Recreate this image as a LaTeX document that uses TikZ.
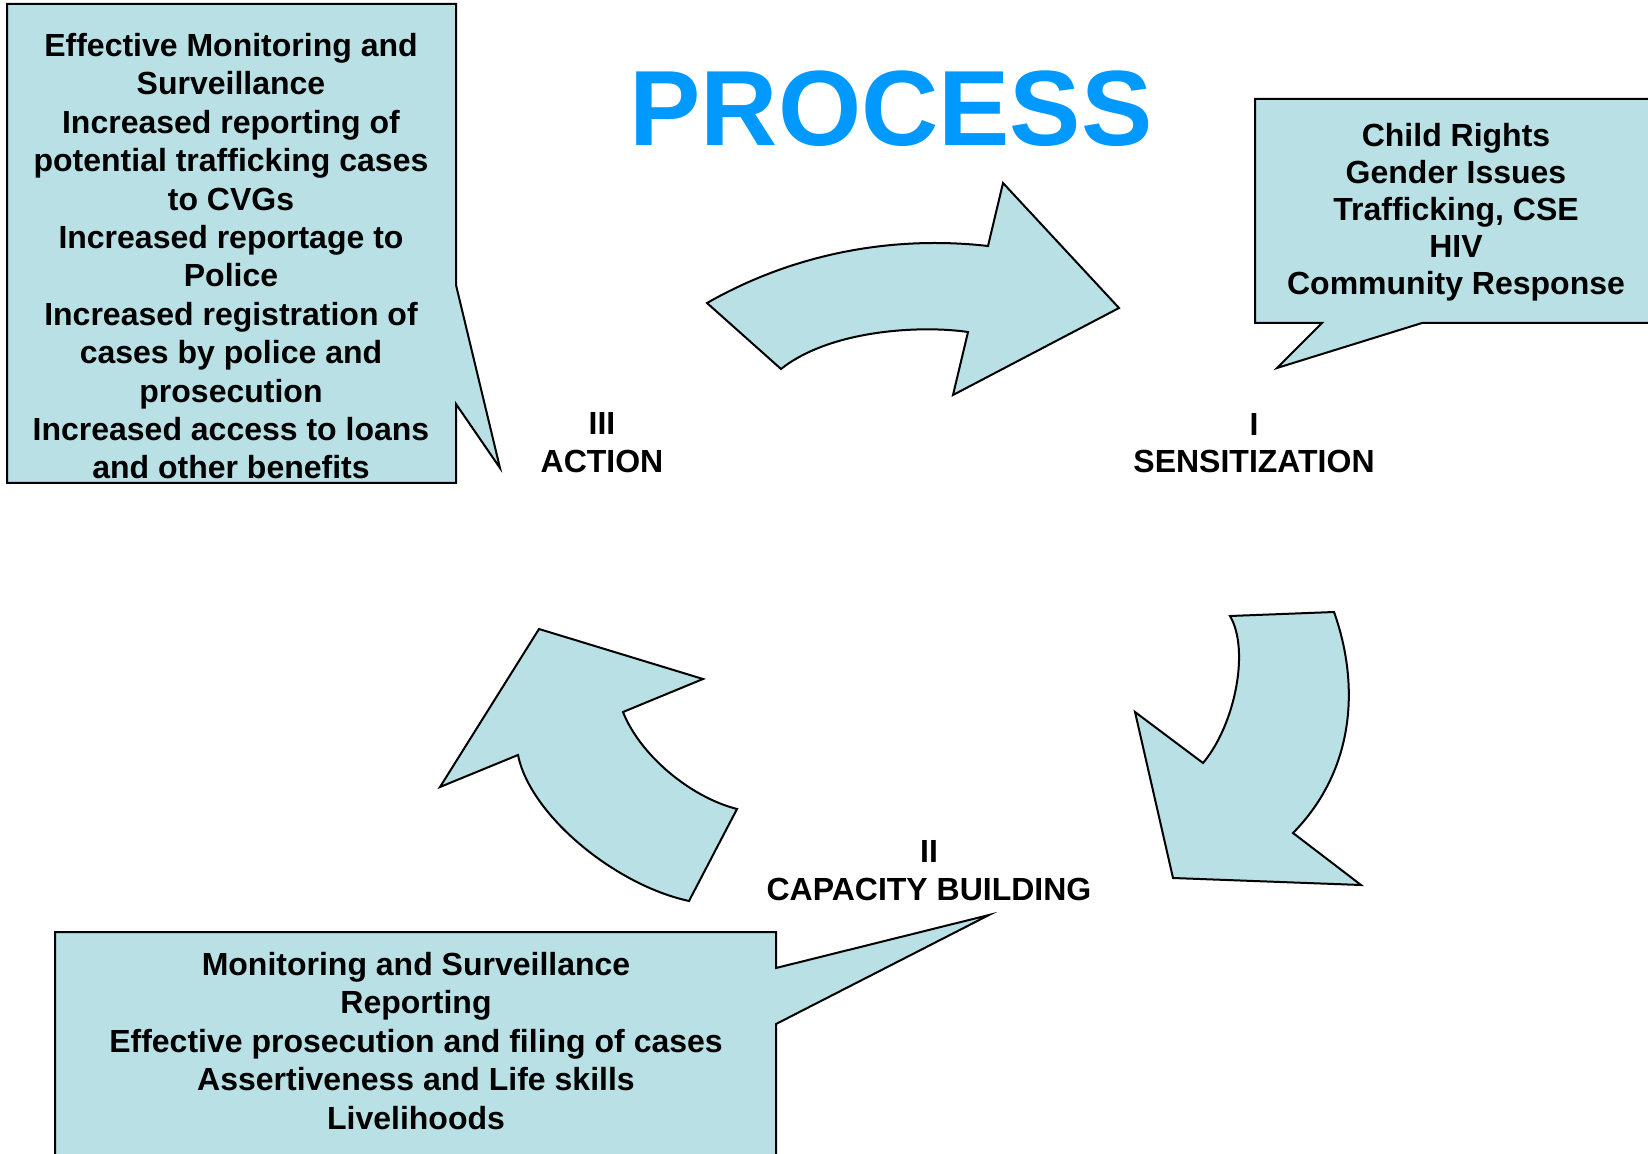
\documentclass[tikz,border=0pt]{standalone}
\usepackage{fontspec}
\setmainfont{Liberation Sans}
\definecolor{shapeFill}{RGB}{185,224,228}
\definecolor{titleBlue}{RGB}{0,153,255}
\begin{document}
\begin{tikzpicture}[x=0.5pt,y=-0.5pt,
    shapeStyle/.style={draw=black,line width=1pt,fill=shapeFill,line join=miter},
    textStyle/.style={font=\bfseries\fontsize{16}{#1}\selectfont,align=center,inner sep=0pt,anchor=north},
    textStyle/.default=18.65]

\useasboundingbox (0,0) rectangle (1648,1154);

% callouts
\begin{scope}
\clip (0,0) rectangle (1648,1154);
\draw[shapeStyle] (7,4) -- (456,4) -- (456,285) -- (500,468) -- (456,404) -- (456,483) -- (7,483) -- cycle;
\draw[shapeStyle] (1255,99) -- (1670,99) -- (1670,323) -- (1422,323) -- (1277,368) -- (1322,323) -- (1255,323) -- cycle;
\draw[shapeStyle] (55,932) -- (776,932) -- (776,968) -- (989,915) -- (776,1024) -- (776,1170) -- (55,1170) -- cycle;
\end{scope}

% curved arrows
\foreach \v/\x/\y in 
{tAPt/707/303, tBPt/781/369, tCPt/968/332, tDPt/953/395,
    tEPt/1119/308, tFPt/1003/183, tGPt/988/246,
    rAPt/1230/616, rBPt/1334/612, rCPt/1293/833, rDPt/1361/885,
    rEPt/1173/878, rFPt/1135/712, rGPt/1203/763,
    lAPt/539/629, lBPt/703/679, lCPt/623/712, lDPt/737/809,
    lEPt/689/901, lFPt/518/755, lGPt/440/787}
{
    \coordinate (\v) at (\x,\y);
};
\draw[shapeStyle] (tGPt) .. controls (900,236) and (800,250) .. (tAPt) -- (tBPt)
    .. controls (830,330) and (920,325) .. (tCPt) -- (tDPt) -- (tEPt) -- (tFPt) -- cycle;
\draw[shapeStyle] (rBPt) .. controls (1360,685) and (1355,770) .. (rCPt) -- (rDPt) -- (rEPt)
    -- (rFPt) -- (rGPt) .. controls (1235,725) and (1250,650) .. (rAPt) -- cycle;
\draw[shapeStyle] (lCPt) .. controls (640,755) and (690,797) .. (lDPt) -- (lEPt)
    .. controls (615,885) and (530,815) .. (lFPt) -- (lGPt) -- (lAPt) -- (lBPt) -- cycle;

\node[font=\bfseries\fontsize{53.5}{60}\selectfont,text=titleBlue,inner sep=0pt,anchor=north] (titleText) at (891,70.5) {PROCESS};

\node[textStyle=19.2] (actionText) at (231,33) {Effective Monitoring and\\Surveillance\\Increased reporting of\\potential trafficking cases\\to CVGs\\Increased reportage to\\Police\\Increased registration of\\cases by police and\\prosecution\\Increased access to loans\\and other benefits};
\node[textStyle=18.6] (sensText) at (1456,122.5) {Child Rights\\Gender Issues\\Trafficking, CSE\\HIV\\Community Response};
\node[textStyle=19.3] (capText) at (416,951.5) {Monitoring and Surveillance\\Reporting\\Effective prosecution and filing of cases\\Assertiveness and Life skills\\Livelihoods};

\node[textStyle] (actionLbl) at (602,412.5) {III\\ACTION};
\node[textStyle] (sensLbl) at (1254,413) {I\\SENSITIZATION};
\node[textStyle] (capLbl) at (929,840.5) {II\\CAPACITY BUILDING};
\end{tikzpicture}
\end{document}
